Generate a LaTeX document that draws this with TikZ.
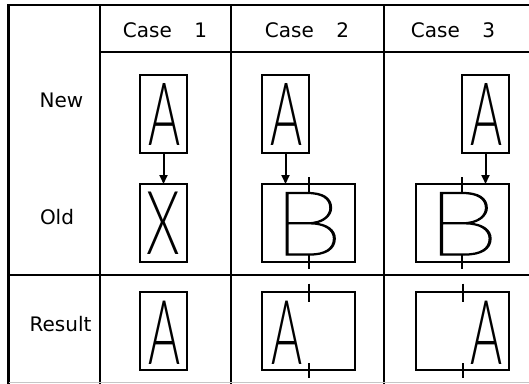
\documentclass[tikz,border=0pt]{standalone}
\usepackage{graphicx}
\usepackage{fontspec}
\setmainfont{DejaVu Sans}
\IfFontExistsTF{Lato Light}{\newfontfamily\letterfont{Lato Light}}{%
  \IfFontExistsTF{Fira Sans Light}{\newfontfamily\letterfont{Fira Sans Light}}{%
    \IfFontExistsTF{Lato}{\newfontfamily\letterfont{Lato}}{%
      \newfontfamily\letterfont{DejaVu Sans}}}}
\IfFontExistsTF{Lato Thin}{\newfontfamily\bletterfont{Lato Thin}[RawFeature={embolden=1.5}]}{%
  \let\bletterfont\letterfont}
\usetikzlibrary{arrows.meta}
\newcommand{\glyphfit}[3]{\resizebox{#1}{#2}{\letterfont #3}}
\newcommand{\bglyphfit}[3]{\resizebox{#1}{#2}{\bletterfont #3}}
\tikzset{
  tableline/.style={line width=2.8pt, line cap=rect},
  box/.style={draw, line width=2pt, minimum width=47pt, minimum height=78pt, inner sep=0pt, outer sep=0pt},
  widebox/.style={box, minimum width=93pt},
  letter/.style={inner sep=0pt, outer sep=0pt},
  lbl/.style={font=\fontsize{20}{24}\selectfont, inner sep=0pt},
  conn/.style={line width=2pt, -{Triangle[length=9pt,width=8pt]}},
  pin/.style={line width=2pt},
}
\begin{document}
\begin{tikzpicture}[x=1pt,y=-1pt]
\useasboundingbox (0,0) rectangle (529,383);
% table
\draw[tableline] (8.5,383) -- (8.5,5) -- (529,5);
\draw[tableline] (100,5) -- (100,383);
\draw[tableline] (231,5) -- (231,383);
\draw[tableline] (384,5) -- (384,383);
\draw[tableline] (100,52) -- (529,52);
\draw[tableline] (8.5,275) -- (529,275);
\draw[gray!45, line width=1.5pt] (8.5,382.5) -- (529,382.5);
% header and row labels
\node[lbl] (c1) at (165,30) {Case\hspace{16pt} 1};
\node[lbl] (c2) at (307,30) {Case\hspace{16pt} 2};
\node[lbl] (c3) at (453,30) {Case\hspace{16pt} 3};
\node[lbl] (new) at (61.5,100.5) {New};
\node[lbl] (old) at (57,217.5) {Old};
\node[lbl] (res) at (60.5,324) {Result};
% case 1
\node[box] (nA1) at (163.5,114.25) {};
\node[letter] (tnA1) at (164.5,114) {\glyphfit{32pt}{62pt}{A}};
\node[box] (oX1) at (163.5,223) {};
\node[letter] (toX1) at (163.7,223.7) {\glyphfit{33.5pt}{62.5pt}{X}};
\node[box] (rA1) at (163.5,331.25) {};
\node[letter] (trA1) at (164.5,332.3) {\glyphfit{32pt}{63.4pt}{A}};
\draw[conn] (nA1.south) -- (oX1.north);
% case 2
\node[box] (nA2) at (285.5,114.25) {};
\node[letter] (tnA2) at (286.5,114) {\glyphfit{32pt}{62pt}{A}};
\node[widebox] (oB2) at (308.5,223) {};
\node[letter] (toB2) at (308,223.75) {\bglyphfit{69pt}{62.5pt}{B}};
\node[widebox] (rB2) at (308.5,331) {};
\node[letter] (trA2) at (287,332.3) {\glyphfit{31pt}{63.4pt}{A}};
\draw[conn] (nA2.south) -- (nA2.south |- oB2.north);
\draw[pin] ([yshift=7pt]oB2.north) -- (oB2.north |- toB2.north);
\draw[pin] (oB2.south |- toB2.south) -- ([yshift=-6.5pt]oB2.south);
\draw[pin] ([yshift=8.5pt]rB2.north) -- ([yshift=-10pt]rB2.north);
\draw[pin] ([yshift=7pt]rB2.south) -- ([yshift=-8pt]rB2.south);
% case 3
\node[box] (nA3) at (485.5,114.25) {};
\node[letter] (tnA3) at (486.5,114) {\glyphfit{32pt}{62pt}{A}};
\node[widebox] (oB3) at (462,223) {};
\node[letter] (toB3) at (463,223.75) {\bglyphfit{71pt}{62.5pt}{B}};
\node[widebox] (rB3) at (462.5,331) {};
\node[letter] (trA3) at (486.6,332.3) {\glyphfit{32pt}{63.4pt}{A}};
\draw[conn] (nA3.south) -- (nA3.south |- oB3.north);
\draw[pin] ([yshift=7pt]oB3.north) -- (oB3.north |- toB3.north);
\draw[pin] (oB3.south |- toB3.south) -- ([yshift=-6.5pt]oB3.south);
\draw[pin] ([yshift=8.5pt]rB3.north) -- ([yshift=-10pt]rB3.north);
\draw[pin] ([yshift=7pt]rB3.south) -- ([yshift=-8pt]rB3.south);
\end{tikzpicture}
\end{document}
